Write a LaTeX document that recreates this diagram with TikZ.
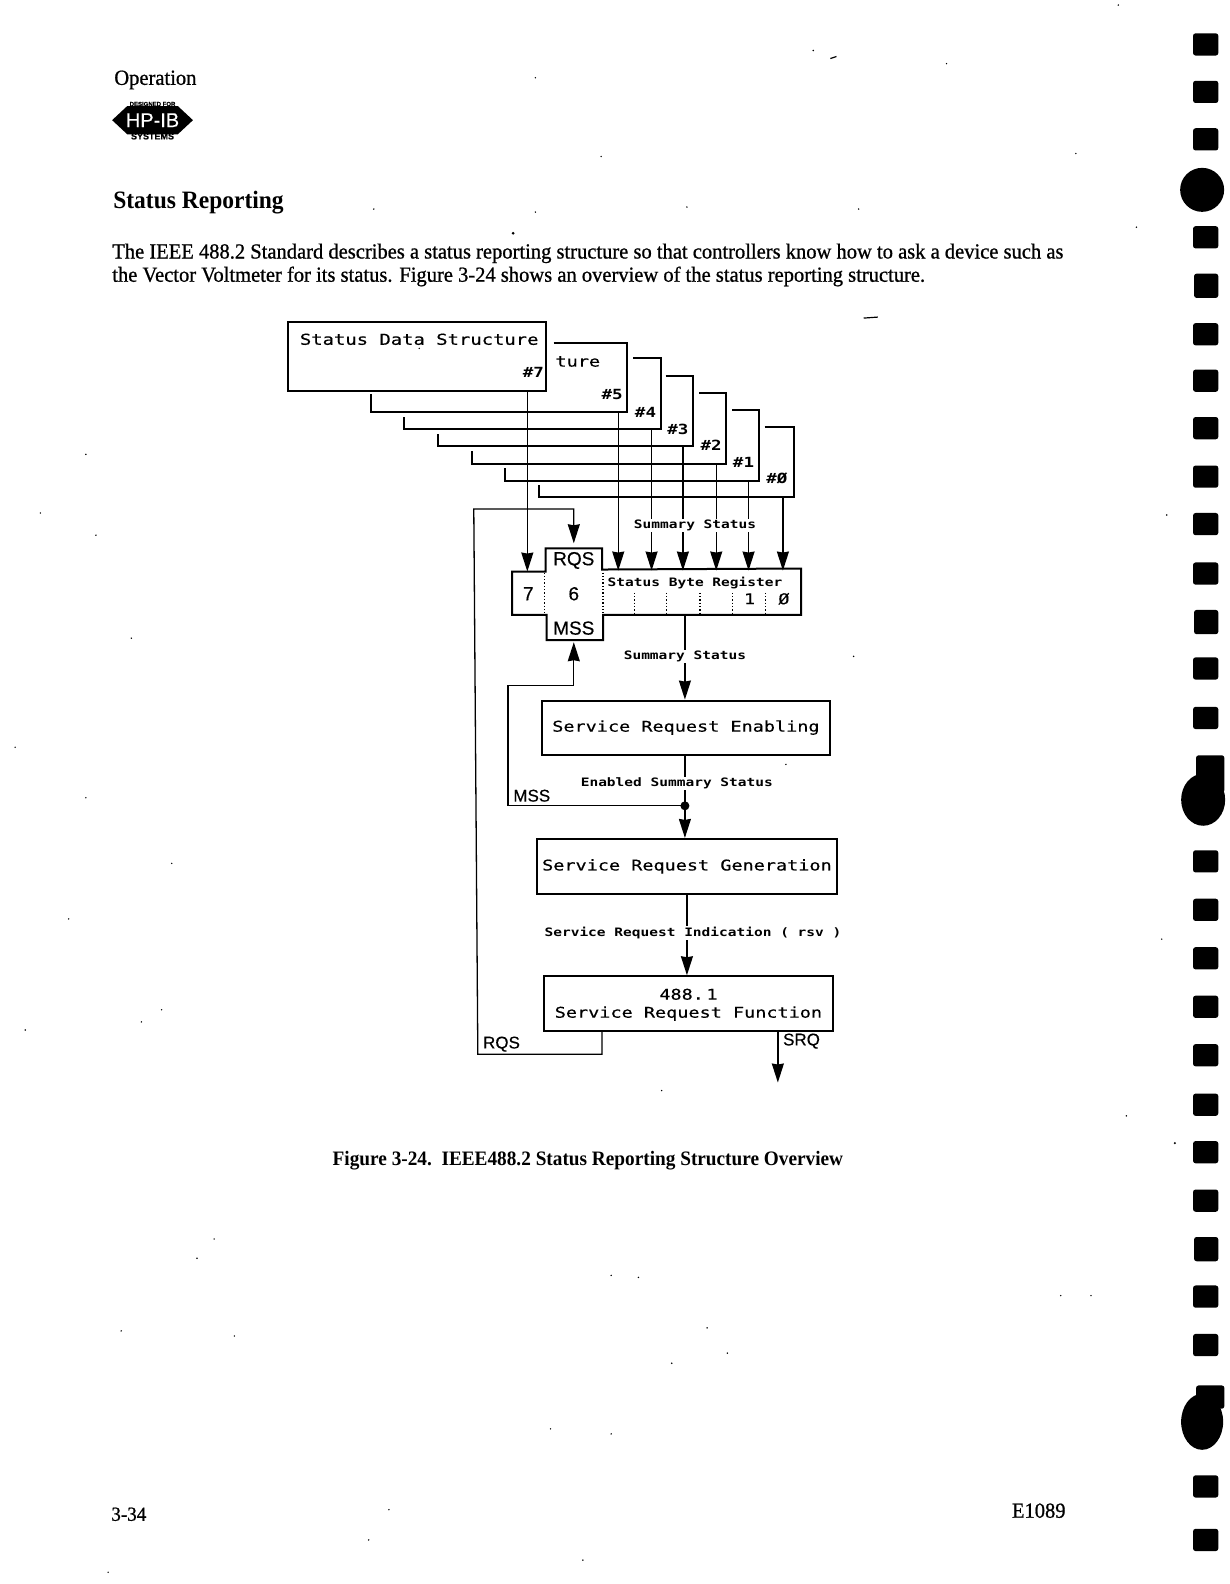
\documentclass[tikz,border=0pt]{standalone}
\usepackage{fontspec}
\usetikzlibrary{arrows.meta}
\setmainfont{Liberation Serif}
\newfontfamily\plotf[FakeStretch=1.25,FakeBold=0.3]{DejaVu Sans Mono}
\newfontfamily\plotb[FakeStretch=1.25]{DejaVu Sans Mono Bold}
\newfontfamily\lblf[FakeBold=0.3]{Liberation Sans}
\newfontfamily\bodyf[FakeBold=0.8,FakeStretch=0.955]{Liberation Serif}
\newfontfamily\headf[FakeStretch=0.94]{Liberation Serif Bold}
\tikzset{
  frame/.style={line width=2pt,line join=miter},
  conn/.style={line width=1.3pt},
  arr/.style={conn,-{Stealth[length=19pt,width=12pt,inset=1pt]}},
  boxn/.style={draw,line width=2pt,fill=white,inner sep=0pt,align=center},
  big/.style={inner sep=0pt,font=\plotf\fontsize{14.8}{19}\selectfont,align=center},
  small/.style={inner sep=1pt,fill=white,font=\plotb\fontsize{11.6}{13}\selectfont},
  tag/.style={inner sep=0pt,font=\plotb\fontsize{14}{15}\selectfont},
  sans/.style={inner sep=0pt,font=\lblf\fontsize{19}{21}\selectfont},
  sansS/.style={inner sep=0pt,font=\lblf\fontsize{17}{19}\selectfont},
  body/.style={inner sep=0pt,anchor=base west,font=\bodyf\fontsize{21.5}{24}\selectfont},
  hole/.style={fill=black,rounded corners=2.5pt},
  speck/.style={fill=black}
}
\begin{document}
\begin{tikzpicture}[x=1.0102pt,y=-1.0098pt]
\useasboundingbox (0pt,0pt) rectangle (1229pt,-1584pt);
% page text
\node[body] (op) at (113,84) {Operation};
\node[body,font=\headf\fontsize{25}{28}\selectfont] (sr) at (112,206) {Status Reporting};
\node[body] (l1) at (111,256) {The IEEE 488.2 Standard describes a status reporting structure so that controllers know how to ask a device such as};
\node[body] (l2) at (111,279) {the Vector Voltmeter for its status. Figure 3-24 shows an overview of the status reporting structure.};
\node[inner sep=0pt,font=\headf\fontsize{20.5}{24}\selectfont] (cap) at (582,1149) {Figure 3-24.\ \ IEEE488.2 Status Reporting Structure Overview};
\node[body,font=\bodyf\fontsize{20}{24}\selectfont] (pg) at (110,1506) {3-34};
\node[inner sep=0pt,anchor=base east,font=\bodyf\fontsize{21.5}{24}\selectfont] (ed) at (1055,1503) {E1089};
% logo
\fill (111,119) -- (126,105) -- (176,105) -- (191,119) -- (176,133) -- (126,133) -- cycle;
\node[inner sep=0pt,font=\lblf\fontsize{20}{20}\selectfont,text=white] (hp) at (151,119) {HP-IB};
\node[inner sep=0pt,font=\lblf\bfseries\fontsize{6}{7}\selectfont] (df) at (151,103) {DESIGNED FOR};
\node[inner sep=0pt,font=\lblf\bfseries\fontsize{9}{10}\selectfont] (sy) at (151,135) {SYSTEMS};
% stacked frames
\draw[frame] (548,340) -- (621,340) -- (621,408) -- (367,408) -- (367,390);
\draw[frame] (627,355) -- (654,355) -- (654,425) -- (400,425) -- (400,413);
\draw[frame] (659,372) -- (686,372) -- (686,442) -- (434,442) -- (434,430);
\draw[frame] (692,389) -- (719,389) -- (719,459) -- (467,459) -- (467,447);
\draw[frame] (725,406) -- (751,406) -- (751,476) -- (500,476) -- (500,463);
\draw[frame] (757,423) -- (786,423) -- (786,492) -- (534,492) -- (534,480);
\node[big] (ture) at (572,358) {ture};
\node[tag] (n5) at (606,391) {\#5};
\node[tag] (n4) at (639,408) {\#4};
\node[tag] (n3) at (671,425) {\#3};
\node[tag] (n2) at (704,441) {\#2};
\node[tag] (n1) at (736,458) {\#1};
\node[tag] (n0) at (769,474) {\#Ø};
% status data structure
\node[boxn,minimum width=258pt,minimum height=69pt] (sds) at (413,353) {};
\node[big,font=\plotf\fontsize{15.1}{19}\selectfont] (sdst) at (415,336) {Status Data Structure};
\node[tag] (n7) at (528,369) {\#7};
% register outline
\draw[frame,fill=white] (507,566) -- (540,566) -- (540,543) -- (596,543) -- (596,564) -- (793,563) -- (793,609) -- (597,609) -- (597,634) -- (541,634) -- (541,609) -- (507,609) -- cycle;
\foreach \x in {539,597} \draw[line width=1.3pt,dotted] (\x,567) -- (\x,608);
\foreach \x in {628,660,693,725,758} \draw[line width=1.3pt,dotted] (\x,587) -- (\x,607);
\node[sans] (b7) at (523,588) {7};
\node[sans] (b6) at (568,588) {6};
\node[sans] (rqs) at (568,555) {RQS};
\node[sans] (mss) at (568,622) {MSS};
\node[inner sep=0pt,font=\plotb\fontsize{11.6}{13}\selectfont] (sbr) at (688,577) {Status Byte Register};
\node[big] (b1) at (742,593) {1};
\node[big] (b0) at (776,593) {Ø};
% named ends
\coordinate (t7) at (522,566);
\coordinate (t5) at (612,565);
\coordinate (t4) at (645,565);
\coordinate (t3) at (676,565);
\coordinate (t2) at (709,565);
\coordinate (t1) at (741,565);
\coordinate (t0) at (775,565);
\coordinate (f5) at (612,408);
\coordinate (f4) at (645,425);
\coordinate (f3) at (676,442);
\coordinate (f2) at (709,459);
\coordinate (f1) at (741,476);
\coordinate (f0) at (775,492);
\draw[arr] (sds.south -| t7) -- (t7);
\foreach \i in {5,4,3,2,1,0} \draw[arr] (f\i) -- (t\i);
\node[small] (ss1) at (688,520) {Summary Status};
% lower boxes
\node[boxn,minimum width=288pt,minimum height=54pt] (en) at (679,720.5) {};
\node[big] at (en) {Service Request Enabling};
\node[boxn,minimum width=300pt,minimum height=55pt] (gen) at (680,858) {};
\node[big] at (gen) {Service Request Generation};
\node[boxn,minimum width=289pt,minimum height=55pt] (fn) at (681.5,994) {};
\node[big] (fnt) at (681.5,995) {488.\,1\\[-1pt]Service Request Function};
% connectors
\coordinate (regb) at (678,609);
\coordinate (dot) at (678,798);
\draw[arr] (regb) -- (en.north -| regb);
\node[small] (ss2) at (678,650) {Summary Status};
\draw[conn] (en.south -| dot) -- (dot);
\draw[arr] (dot) -- (gen.north -| dot);
\fill (dot) circle (4.5pt);
\node[small] (ess) at (670,776) {Enabled Summary Status};
\coordinate (gi) at (680,885);
\draw[arr] (gi) -- (fn.north -| gi);
\node[small] (sri) at (686,924) {Service Request Indication ( rsv )};
% feedback
\coordinate (mssup) at (568,679);
\coordinate (mssl) at (503,679);
\coordinate (mssb) at (503,798);
\draw[arr] (dot) -- (mssb) -- (mssl) -- (mssup) -- (568,636);
\node[sansS,anchor=west] (mlbl) at (508,788) {MSS};
\coordinate (rq0) at (596,1021);
\coordinate (rq1) at (596,1044);
\coordinate (rq2) at (473,1044);
\coordinate (rq3) at (469,504);
\coordinate (rq4) at (568,504);
\coordinate (rq5) at (568,538);
\draw[arr] (rq0) -- (rq1) -- (rq2) -- (rq3) -- (rq4) -- (rq5);
\node[sansS,anchor=west] (rlbl) at (478,1034) {RQS};
\coordinate (srq0) at (770,1021);
\coordinate (srq1) at (770,1072);
\draw[arr] (srq0) -- (srq1);
\node[sansS,anchor=west] (slbl) at (775,1031) {SRQ};
% binder holes
\foreach \y in {44,91,138,235,331,377,424,472,519,568,662,711,853,901,949,997,1045,1094,1141,1189,1284,1332,1472,1525}
  \fill[hole] (1181,\y-11) rectangle (1206,\y+11);
\foreach \y in {283,616,1237}
  \fill[hole] (1182,\y-12) rectangle (1206,\y+12);
\fill (1190,188) circle (22pt);
\fill (1191,792) ellipse (22pt and 26pt);
\fill[hole] (1184,748) rectangle (1212,785);
\fill (1190,1408) ellipse (21pt and 28pt);
\fill[hole] (1184,1372) rectangle (1212,1395);
% specks
\foreach \x/\y in {1107/5,805/50,937/63,530/77,1065/152,595/155,370/207,530/210,680/205,850/207,1125/225,415/345,130/632,95/530,40/508,85/450,85/790,15/740,170/855,68/910,25/1020,140/1012,160/1000,212/1227,195/1246,120/1318,232/1323,605/1263,632/1265,665/1350,700/1315,720/1340,1050/1283,1080/1283,545/1415,605/1420,385/1495,365/1525,577/1545,107/1557,655/1080,845/650,778/757,1150/930,1115/1105,1155/510}
  \fill[speck] (\x,\y) circle (0.8pt);
\draw[line width=1.2pt] (855,315) -- (869,314);
\draw[line width=1.2pt] (822,58) -- (828,56);
\fill[speck] (1163,1132) circle (1.2pt);
\fill[speck] (508,231) circle (1.5pt);
\end{tikzpicture}
\end{document}
